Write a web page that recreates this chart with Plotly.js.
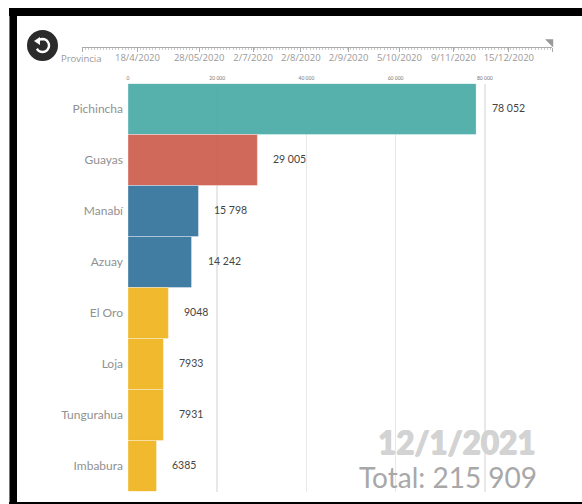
<!DOCTYPE html>
<html lang="es">
<head>
<meta charset="utf-8">
<title>Casos por provincia</title>
<script src="https://cdn.plot.ly/plotly-3.0.1.min.js"></script>
<style>html,body{margin:0;padding:0;background:#fff;overflow:hidden}</style>
</head>
<body>
<div id="chart" style="width:582px;height:504px"></div>
<script>
// Cases by province on the last day of the timeline
const provinces = ["Pichincha", "Guayas", "Manabí", "Azuay", "El Oro", "Loja", "Tungurahua", "Imbabura"];
const cases = [78052, 29005, 15798, 14242, 9048, 7933, 7931, 6385];
const barColors = ["#50aeaa", "#cf6353", "#3a77a0", "#3a77a0", "#f0b726", "#f0b726", "#f0b726", "#f0b726"];
const caseTicks = [0, 20000, 40000, 60000, 80000];

// Timeline strip above the bars
const timelineStart = "2020-03-13";
const timelineEnd = "2021-01-12";
const timelineDates = ["2020-04-18", "2020-05-28", "2020-07-02", "2020-08-02", "2020-09-02", "2020-10-05", "2020-11-09", "2020-12-15"];
const timelineLabels = ["18/4/2020", "28/05/2020", "2/7/2020", "2/8/2020", "2/9/2020", "5/10/2020", "9/11/2020", "15/12/2020"];

const currentDate = "12/1/2021";
const totalCases = 215909;

const W = 582, H = 504;
const px = v => v / W;
const py = v => 1 - v / H;
const DAY = 86400000;

// 1234 stays plain, 12345 gets a space before the thousands
const fmt = n => n < 10000 ? String(n) : String(n).replace(/\B(?=(\d{3})+$)/g, " ");

const PLOT_LEFT = 128, PLOT_RIGHT = 528, PLOT_TOP = 83.5, PLOT_BOTTOM = 491.5;
const PX_PER_CASE = 0.00446;

function rect(x0, y0, x1, y1, color) {
  return {type: "rect", xref: "paper", yref: "paper", layer: "above",
          x0: px(x0), x1: px(x1), y0: py(y0), y1: py(y1),
          fillcolor: color, line: {width: 0}};
}

// Replay icon: an open ring with a small arrow head
function ringPath(cx, cy, r, fromDeg, toDeg) {
  const pts = [];
  for (let a = fromDeg; a <= toDeg; a += 15) {
    const t = a * Math.PI / 180;
    pts.push((pts.length ? "L" : "M") + px(cx + r * Math.cos(t)) + "," + py(cy + r * Math.sin(t)));
  }
  return pts.join(" ");
}
const arrowHead = "M" + px(34) + "," + py(41) + " L" + px(40) + "," + py(37) +
                  " L" + px(40) + "," + py(45) + " Z";

const barTrace = {
  type: "bar", orientation: "h",
  y: provinces, x: cases,
  width: 1,
  marker: {color: barColors, opacity: 0.96, line: {color: "rgba(255,255,255,0.35)", width: 1}},
  hoverinfo: "skip", xaxis: "x", yaxis: "y"
};

// Current-position marker at the end of the timeline
const timelineTrace = {
  type: "scatter", mode: "markers",
  x: [new Date(Date.parse(timelineEnd) - 1 * DAY).toISOString().slice(0, 10)], y: [5],
  marker: {symbol: "triangle-ne", size: 9, color: "#999999"},
  cliponaxis: false, hoverinfo: "skip", xaxis: "x2", yaxis: "y2"
};

const valueNotes = provinces.map((p, i) => ({
  xref: "x", yref: "y", x: cases[i], y: p, text: fmt(cases[i]),
  xanchor: "left", yanchor: "middle", xshift: 14, yshift: 1, showarrow: false,
  font: {family: "Lato, sans-serif", size: 10.5, color: "#444444"}
}));

const layout = {
  width: W, height: H,
  margin: {l: 0, r: 0, t: 0, b: 0},
  paper_bgcolor: "#ffffff", plot_bgcolor: "rgba(0,0,0,0)",
  showlegend: false, bargap: 0,
  xaxis: {
    domain: [px(PLOT_LEFT), px(PLOT_RIGHT)],
    range: [0, (PLOT_RIGHT - PLOT_LEFT) / PX_PER_CASE],
    side: "top", anchor: "y",
    tickmode: "array", tickvals: caseTicks, ticktext: caseTicks.map(fmt),
    tickfont: {family: "Lato, sans-serif", size: 5, color: "#777777"},
    ticks: "", ticklabelstandoff: 2, showline: false, zeroline: false,
    showgrid: true, gridcolor: "#e8e8e8", gridwidth: 1.5, layer: "below traces"
  },
  yaxis: {
    domain: [py(PLOT_BOTTOM), py(PLOT_TOP)],
    type: "category", categoryorder: "array", categoryarray: provinces,
    range: [provinces.length - 0.5, -0.5], anchor: "x",
    ticks: "", ticklabelstandoff: 4, showline: false, showgrid: false, zeroline: false,
    tickfont: {family: "Lato, sans-serif", size: 12, color: "#919191"}
  },
  xaxis2: {
    domain: [px(82), px(552)],
    type: "date", range: [timelineStart, timelineEnd], anchor: "y2",
    tickmode: "array", tickvals: timelineDates.concat([timelineStart, timelineEnd]),
    ticktext: timelineLabels.concat(["", ""]),
    ticks: "outside", ticklen: 4, tickwidth: 1, tickcolor: "#aaaaaa", ticklabelstandoff: -2,
    minor: {ticks: "outside", ticklen: 2, tickwidth: 1, tickcolor: "#cccccc", dtick: 2 * DAY, tick0: timelineStart},
    tickfont: {family: "'Open Sans', sans-serif", size: 9.5, color: "#999999"},
    showline: true, linecolor: "#aaaaaa", linewidth: 1, showgrid: false, zeroline: false
  },
  yaxis2: {
    domain: [py(47), py(39)], range: [0, 8], anchor: "x2",
    visible: false, fixedrange: true
  },
  shapes: [
    rect(9, 8, 17, 504, "#777777"),
    rect(10, 9, 17, 502, "#000000"),
    rect(9, 8, W, 16, "#000000"),
    rect(9, 502, W, 504, "#000000"),
    {type: "circle", xref: "paper", yref: "paper", layer: "above",
     x0: px(27), x1: px(58), y0: py(61), y1: py(30), fillcolor: "#2b2b2b", line: {width: 0}},
    {type: "path", xref: "paper", yref: "paper", layer: "above", path: ringPath(42.5, 45.5, 6.5, -120, 150),
     line: {color: "#ffffff", width: 2.4}},
    {type: "path", xref: "paper", yref: "paper", layer: "above", path: arrowHead,
     fillcolor: "#ffffff", line: {width: 0}}
  ],
  annotations: valueNotes.concat([
    {xref: "paper", yref: "paper", x: px(104), y: py(58), text: "Provincia", showarrow: false,
     xanchor: "right", yanchor: "middle",
     font: {family: "'Open Sans', sans-serif", size: 9.5, color: "#999999"}},
    {xref: "paper", yref: "paper", x: px(538), y: py(442), text: currentDate, showarrow: false,
     xanchor: "right", yanchor: "middle",
     font: {family: "Lato, sans-serif", size: 31.5, weight: 900, color: "#d3d3d3",
            shadow: "0.6px 0 0 #d3d3d3, -0.6px 0 0 #d3d3d3, 0 0.5px 0 #d3d3d3"}},
    {xref: "paper", yref: "paper", x: px(539), y: py(477), text: "Total: " + fmt(totalCases), showarrow: false,
     xanchor: "right", yanchor: "middle",
     font: {family: "Lato, sans-serif", size: 28, color: "#a8a8a8"}}
  ])
};

Plotly.newPlot("chart", [barTrace, timelineTrace], layout, {displayModeBar: false, staticPlot: true});
</script>
</body>
</html>
